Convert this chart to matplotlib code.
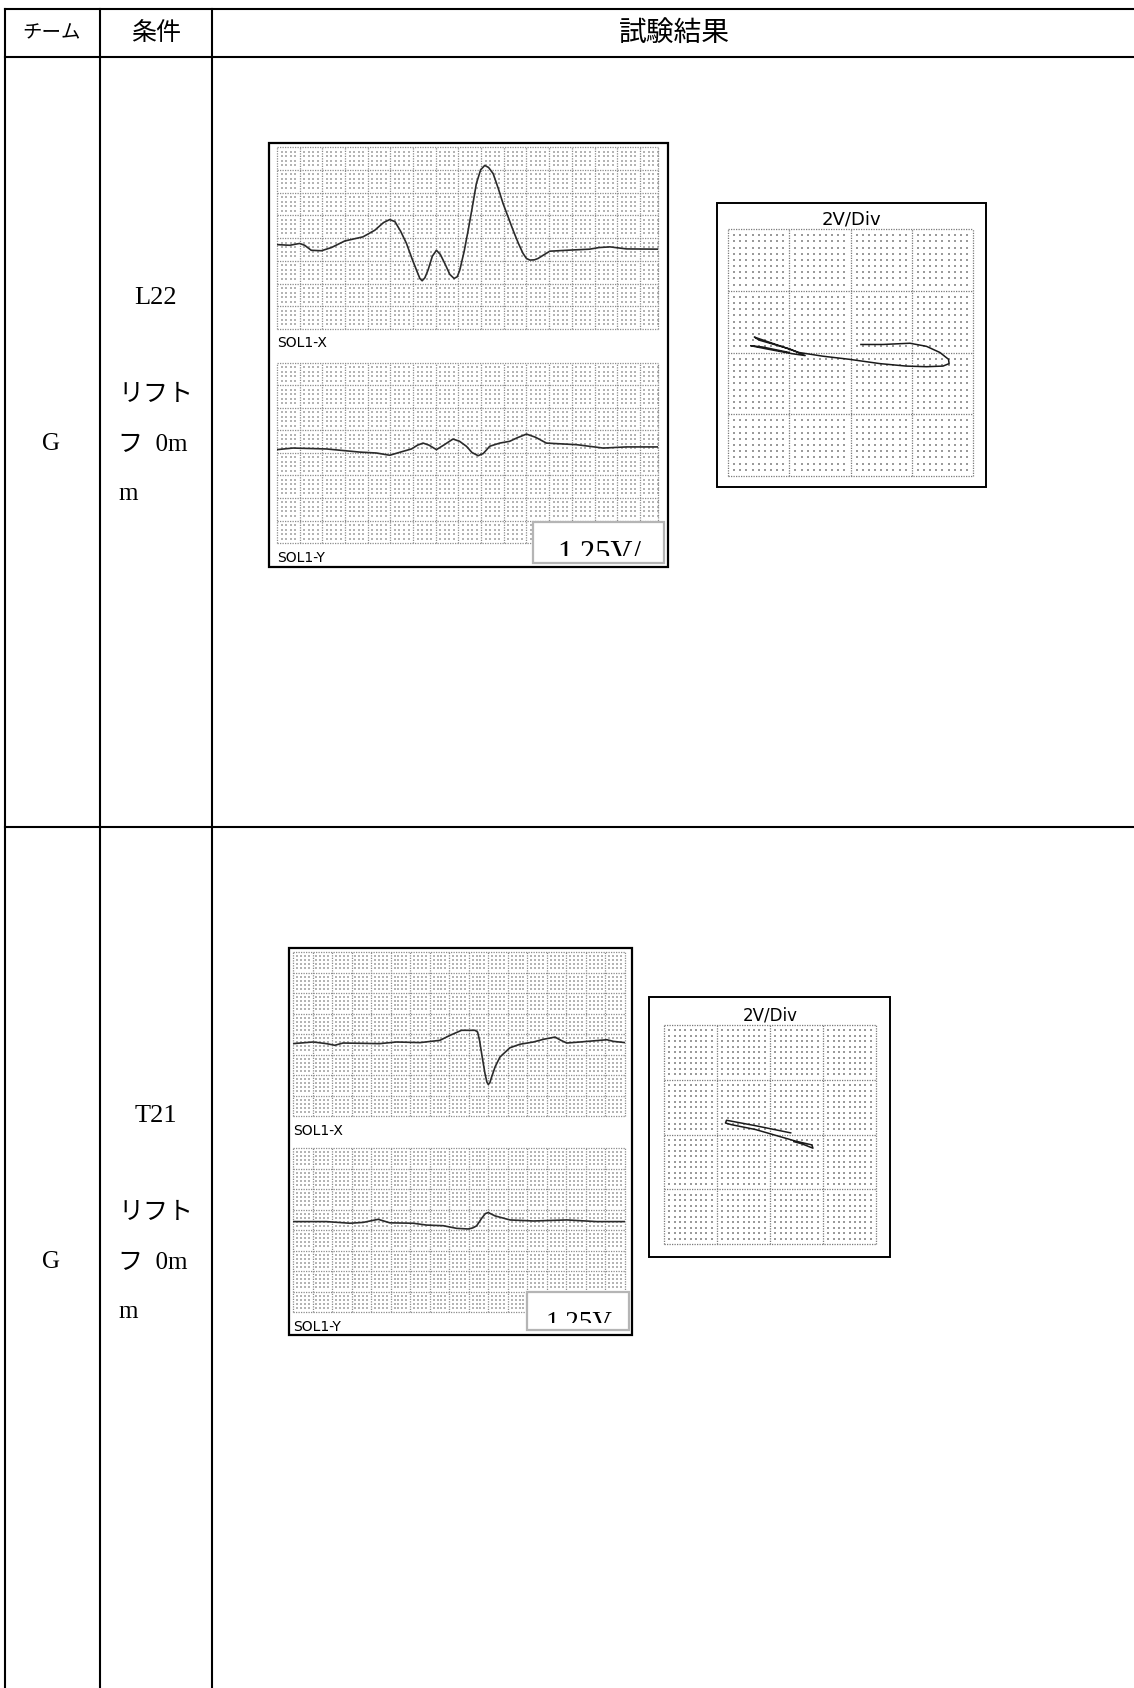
import matplotlib.pyplot as plt
import numpy as np
from matplotlib.patches import Rectangle

W, H = 1134, 1688

# --- table text ---
header = ["チーム", "条件", "試験結果"]
team = ["G", "G"]
cond_id = ["L22", "T21"]
cond_lines = ["リフト", "フ  0m", "m"]
wave_names = ["SOL1-X", "SOL1-Y"]
xy_title = "2V/Div"
scale_txt = ["1.25V/", "1.25V"]

# --- L22 traces (divisions) ---
l22_x_t = [0, 0.56, 1.0, 1.22, 1.51, 1.96, 2.40, 2.99, 3.79, 4.31, 4.70, 4.97, 5.20, 5.45, 5.71,
           5.95, 6.15, 6.30, 6.40, 6.52, 6.66, 6.85, 7.03, 7.20, 7.40, 7.62, 7.81, 7.95, 8.06,
           8.25, 8.43, 8.62, 8.79, 8.98, 9.16, 9.33, 9.53, 9.75, 9.97, 10.20, 10.41, 10.65,
           10.85, 11.0, 11.15, 11.35, 11.51, 11.75, 12.03, 12.76, 13.79, 14.2, 14.68, 15.41, 16.8]
l22_x_v = [3.71, 3.68, 3.76, 3.68, 3.46, 3.44, 3.58, 3.87, 4.05, 4.34, 4.68, 4.81, 4.72, 4.30, 3.76,
           3.10, 2.59, 2.22, 2.12, 2.25, 2.59, 3.20, 3.46, 3.28, 2.88, 2.40, 2.22, 2.30, 2.59,
           3.40, 4.34, 5.40, 6.39, 7.00, 7.19, 7.10, 6.83, 6.20, 5.51, 4.90, 4.34, 3.75,
           3.32, 3.10, 3.03, 3.04, 3.10, 3.25, 3.42, 3.46, 3.51, 3.58, 3.61, 3.52, 3.51]
l22_y_t = [0, 0.71, 2.18, 3.65, 4.38, 4.97, 5.41, 5.93, 6.2, 6.44, 6.7, 7.03, 7.35, 7.76, 8.05,
           8.35, 8.6, 8.87, 9.1, 9.38, 9.82, 10.26, 10.6, 11.0, 11.4, 11.88, 13.21, 14.38, 15.41, 16.8]
l22_y_v = [4.15, 4.22, 4.18, 4.04, 4.0, 3.90, 4.03, 4.18, 4.35, 4.44, 4.35, 4.15, 4.35, 4.62, 4.52,
           4.30, 4.02, 3.88, 3.98, 4.30, 4.44, 4.52, 4.68, 4.84, 4.70, 4.44, 4.37, 4.22, 4.27, 4.27]
l22_lis_x = [0.17, 0.53, 0.97, 1.24, 1.46, 1.60, 1.61, 1.51, 1.24, 0.91, 0.48, -0.02, -0.45, -0.84,
             -1.16, -1.57, -1.49, -1.0, -0.74, -0.95, -1.38, -1.63, -1.44, -1.0]
l22_lis_y = [0.13, 0.13, 0.15, 0.10, 0.0, -0.11, -0.18, -0.22, -0.23, -0.22, -0.18, -0.11, -0.06, 0.0,
             0.11, 0.25, 0.20, 0.06, -0.05, -0.02, 0.06, 0.11, 0.09, 0.0]

# --- T21 traces ---
t21_x_t = [0, 1.03, 1.71, 2.14, 2.56, 4.44, 5.30, 6.50, 7.52, 8.03, 8.63, 9.32, 9.45, 9.55, 9.66,
           9.83, 9.93, 10.0, 10.08, 10.17, 10.35, 10.6, 11.11, 11.62, 12.31, 12.82, 13.42, 13.7,
           14.02, 14.70, 16.07, 16.41, 17.0]
t21_x_v = [3.53, 3.61, 3.53, 3.45, 3.56, 3.53, 3.61, 3.58, 3.69, 3.93, 4.18, 4.18, 4.10, 3.70, 3.04,
           2.07, 1.65, 1.54, 1.62, 1.90, 2.40, 2.88, 3.33, 3.50, 3.61, 3.74, 3.85, 3.70,
           3.56, 3.61, 3.72, 3.64, 3.58]
t21_y_t = [0, 1.71, 2.91, 3.59, 4.36, 4.96, 6.15, 6.84, 7.69, 8.38, 8.97, 9.2, 9.40, 9.66, 9.85,
           10.0, 10.34, 11.11, 12.31, 14.02, 15.56, 17.0]
t21_y_v = [4.41, 4.41, 4.33, 4.37, 4.52, 4.35, 4.33, 4.24, 4.21, 4.08, 4.05, 4.10, 4.20, 4.57, 4.80,
           4.85, 4.69, 4.49, 4.44, 4.49, 4.41, 4.41]
t21_lis_x = [0.39, -0.27, -0.82, -0.84, -0.73, -0.27, 0.48, 0.79, 0.81, 0.60, 0.45]
t21_lis_y = [0.03, 0.16, 0.26, 0.21, 0.18, 0.09, -0.12, -0.19, -0.25, -0.17, -0.13]

fig = plt.figure(figsize=(W / 100, H / 100), dpi=100)
bg = fig.add_axes([0, 0, 1, 1])
bg.set_xlim(0, W)
bg.set_ylim(H, 0)
bg.axis('off')

def px_axes(x0, y0, x1, y1):
    return fig.add_axes([x0 / W, 1 - y1 / H, (x1 - x0) / W, (y1 - y0) / H])

def grid_panel(box, xr, yr, sub, col_major, dot_col, dot_s):
    ax = px_axes(*box)
    ax.set_xlim(*xr)
    ax.set_ylim(*yr)
    ax.axis('off')
    ls = (0, (1, 1))
    xs_major = list(np.arange(np.ceil(xr[0]), xr[1] + 1e-9, 1.0))
    if abs(xs_major[-1] - xr[1]) > 1e-6:
        xs_major.append(xr[1])
    ys_major = list(np.arange(np.ceil(yr[0]), yr[1] + 1e-9, 1.0))
    for v in xs_major:
        ax.axvline(v, color=col_major, lw=0.9, ls=ls, clip_on=False)
    for v in ys_major:
        ax.axhline(v, color=col_major, lw=0.9, ls=ls, clip_on=False)
    # minor dots
    mx = np.arange(xr[0], xr[1] + 1e-9, 1.0 / sub)
    my = np.arange(yr[0], yr[1] + 1e-9, 1.0 / sub)
    mx = mx[np.abs(mx - np.round(mx)) > 1e-6]
    my = my[np.abs(my - np.round(my)) > 1e-6]
    gx, gy = np.meshgrid(mx, my)
    ax.scatter(gx.ravel(), gy.ravel(), s=dot_s, color=dot_col, marker='s', linewidths=0)
    return ax

# --- table ---
lw_tab = 1.5
for y in [8.5, 57, 827]:
    bg.plot([5, W], [y, y], color='black', lw=lw_tab)
for x in [5, 100, 212]:
    bg.plot([x, x], [8.5, H], color='black', lw=lw_tab)

cjk = ['Noto Sans CJK JP', 'DejaVu Sans']
mix = ['Liberation Serif', 'Noto Sans CJK JP']
bg.text(52, 33, header[0], ha='center', va='center', fontsize=14, family=cjk)
bg.text(156, 33, header[1], ha='center', va='center', fontsize=18, family=cjk)
bg.text(674, 33, header[2], ha='center', va='center', fontsize=20, family=cjk)

row_dy = [0, 818]
for i in range(2):
    dy = row_dy[i]
    bg.text(156, 298 + dy, cond_id[i], ha='center', va='center', fontsize=19, family=mix)
    for j, s in enumerate(cond_lines):
        bg.text(118, 395 + 49.5 * j + dy, s, ha='left', va='center', fontsize=18, family=mix)
    bg.text(51, 444 + dy, team[i], ha='center', va='center', fontsize=18, family=mix)

# --- waveform panels ---
wave_sets = [
    dict(box=(269, 143, 668, 567), up=(277, 147, 658, 329), lo=(277, 363, 658, 543),
         lab=(343, 558), sbox=(533, 522, 664, 563), stxt=(557, 562), sclip=556, fs=22,
         ncol=16.8, xt=(l22_x_t, l22_x_v), yt=(l22_y_t, l22_y_v), txt=scale_txt[0]),
    dict(box=(289, 948, 632, 1335), up=(293, 952, 625, 1116), lo=(293, 1148, 625, 1312),
         lab=(1131, 1327), sbox=(527, 1292, 629, 1330), stxt=(546, 1330), sclip=1323, fs=19.5,
         ncol=17.0, xt=(t21_x_t, t21_x_v), yt=(t21_y_t, t21_y_v), txt=scale_txt[1]),
]

xy_sets = [
    dict(box=(717, 203, 986, 487), title=(851, 219), grid=(728, 229, 973, 476), fs=13,
         xy=(l22_lis_x, l22_lis_y)),
    dict(box=(649, 997, 890, 1257), title=(770, 1015), grid=(664, 1025, 876, 1244), fs=12,
         xy=(t21_lis_x, t21_lis_y)),
]

for w in wave_sets:
    x0, y0, x1, y1 = w['box']
    bg.add_patch(Rectangle((x0, y0), x1 - x0, y1 - y0, facecolor='white', edgecolor='black', lw=1.6))
    for key, tr in [('up', w['xt']), ('lo', w['yt'])]:
        ax = grid_panel(w[key], (0, w['ncol']), (0, 8), 5, '#8c8c8c', '#b4b4b4', 1.3)
        ax.plot(tr[0], tr[1], color='#2b2b2b', lw=1.2)
    lx = w['up'][0]
    bg.text(lx, w['lab'][0], wave_names[0], ha='left', va='center', fontsize=10, family='DejaVu Sans')
    bg.text(lx, w['lab'][1], wave_names[1], ha='left', va='center', fontsize=10, family='DejaVu Sans')

for s in xy_sets:
    x0, y0, x1, y1 = s['box']
    bg.add_patch(Rectangle((x0, y0), x1 - x0, y1 - y0, facecolor='white', edgecolor='black', lw=1.4))
    bg.text(s['title'][0], s['title'][1], xy_title, ha='center', va='center', fontsize=s['fs'],
            family='DejaVu Sans')
    ax = grid_panel(s['grid'], (-2, 2), (-2, 2), 10, '#7a7a7a', '#9a9a9a', 1.4)
    ax.plot(s['xy'][0], s['xy'][1], color='#1a1a1a', lw=1.1)

# --- overlay for the scale boxes ---
top = fig.add_axes([0, 0, 1, 1])
top.set_xlim(0, W)
top.set_ylim(H, 0)
top.axis('off')
top.patch.set_alpha(0)
for w in wave_sets:
    x0, y0, x1, y1 = w['sbox']
    top.add_patch(Rectangle((x0, y0), x1 - x0, y1 - y0, facecolor='white', edgecolor='#b5b5b5', lw=1.6))
    clip = Rectangle((x0, y0), x1 - x0, w['sclip'] - y0, transform=top.transData)
    t = top.text(w['stxt'][0], w['stxt'][1], w['txt'], ha='left', va='baseline',
                 fontsize=w['fs'], family='Liberation Serif', clip_on=True)
    t.set_clip_path(clip)

fig.savefig('out.png', dpi=100)
